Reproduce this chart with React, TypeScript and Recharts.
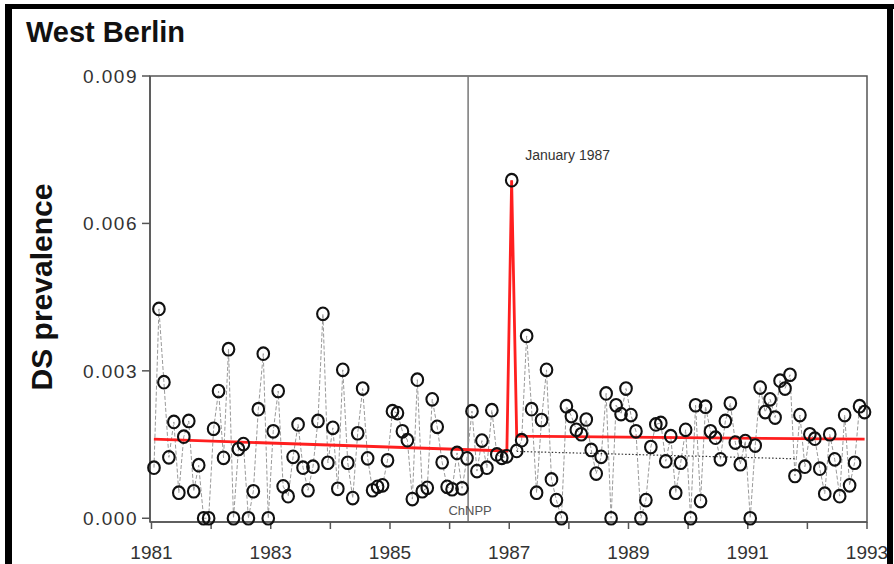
import React from "react";
import {
  ComposedChart,
  Line,
  XAxis,
  YAxis,
  ReferenceLine,
  ReferenceArea,
  ReferenceDot,
} from "recharts";

// monthly DS prevalence, West Berlin, Jan..Dec of each year
const years = [1981, 1982, 1983, 1984, 1985, 1986, 1987, 1988, 1989, 1990, 1991, 1992];
const ds1981 = [0.00103, 0.00426, 0.00277, 0.00124, 0.00196, 0.00052, 0.00166, 0.00198, 0.00055, 0.00108, 0, 0];
const ds1982 = [0.00182, 0.00259, 0.00123, 0.00344, 0, 0.00141, 0.00151, 0, 0.00055, 0.00222, 0.00335, 0];
const ds1983 = [0.00177, 0.00259, 0.00065, 0.00045, 0.00125, 0.00191, 0.00103, 0.00057, 0.00105, 0.00198, 0.00416, 0.00113];
const ds1984 = [0.00184, 0.0006, 0.00302, 0.00113, 0.00041, 0.00173, 0.00264, 0.00122, 0.00057, 0.00064, 0.00067, 0.00118];
const ds1985 = [0.00218, 0.00214, 0.00177, 0.00159, 0.00039, 0.00282, 0.00055, 0.00062, 0.00242, 0.00186, 0.00114, 0.00064];
const ds1986 = [0.00059, 0.00133, 0.00061, 0.00122, 0.00218, 0.00096, 0.00158, 0.00103, 0.0022, 0.0013, 0.00123, 0.00126];
const ds1987 = [0.00688, 0.00137, 0.00159, 0.00371, 0.00222, 0.00052, 0.002, 0.00302, 0.00079, 0.00037, 0, 0.00228];
const ds1988 = [0.00208, 0.0018, 0.00171, 0.00201, 0.00139, 0.00091, 0.00125, 0.00254, 0, 0.0023, 0.00212, 0.00264];
const ds1989 = [0.0021, 0.00177, 0, 0.00037, 0.00145, 0.00191, 0.00194, 0.00116, 0.00167, 0.00052, 0.00113, 0.0018];
const ds1990 = [0, 0.0023, 0.00035, 0.00227, 0.00177, 0.00164, 0.0012, 0.00198, 0.00234, 0.00154, 0.0011, 0.00157];
const ds1991 = [0, 0.00148, 0.00266, 0.00216, 0.00242, 0.00205, 0.0028, 0.00264, 0.00292, 0.00086, 0.0021, 0.00105];
const ds1992 = [0.00171, 0.00162, 0.00101, 0.0005, 0.00171, 0.0012, 0.00045, 0.0021, 0.00067, 0.00113, 0.00228, 0.00216];

// fitted model (red) and extended pre-Chernobyl trend (dotted)
const fitYears = [1981.04, 1986.96, 1987.04, 1987.125, 1992.96];
const fitValues = [0.00161, 0.00137, 0.00688, 0.00167, 0.00161];
const trendYears = [1987.125, 1991.82];
const trendValues = [0.00136, 0.00121];

const chnppYear = 1986.31;
const peakYear = 1987.04;
const peakValue = 0.00688;

const xTicks = [1981, 1982, 1983, 1984, 1985, 1986, 1987, 1988, 1989, 1990, 1991, 1992, 1993];
const yTicks = [0, 0.003, 0.006, 0.009];
const xDomain = [1980.975, 1993];
const yDomain = [-0.000076, 0.009];

const monthly = [ds1981, ds1982, ds1983, ds1984, ds1985, ds1986, ds1987, ds1988, ds1989, ds1990, ds1991, ds1992];
const observed = years.flatMap((yr, i) =>
  monthly[i].map((v, m) => ({ t: yr + (m + 0.5) / 12, ds: v }))
);
const fitData = fitYears.map((t, i) => ({ t, fit: fitValues[i] }));
const trendData = trendYears.map((t, i) => ({ t, trend: trendValues[i] }));

const FONT = "'Liberation Sans', Arial, Helvetica, sans-serif";

// the markers in the original are slightly taller than wide
const OpenCircle = (props: any) => {
  const { cx, cy, index } = props;
  if (cx == null || cy == null) return <g key={index} />;
  return (
    <ellipse key={index} cx={cx} cy={cy} rx={5.8} ry={6.3} fill="none" stroke="#111" strokeWidth={2.1} />
  );
};

const XTick = (props: any) => {
  const yr = props.payload.value;
  if ((yr - 1981) % 2 !== 0) return <g />;
  return (
    <text x={props.x} y={props.y} dy={28} textAnchor="middle" fontSize={19} fill="#333" fontFamily={FONT}>
      {yr}
    </text>
  );
};

const YTick = (props: any) => (
  <text x={props.x} y={props.y} dy={7} textAnchor="end" fontSize={19} fill="#333" fontFamily={FONT} letterSpacing={1.5}>
    {Number(props.payload.value).toFixed(3)}
  </text>
);

export default function App() {
  return (
    <div style={{ position: "absolute", left: 0, top: 0, width: 894, height: 564, background: "#fff" }}>
      <ComposedChart width={894} height={564} margin={{ top: 76, right: 27, bottom: 0, left: 80 }}>
        <XAxis
          type="number"
          dataKey="t"
          domain={xDomain}
          ticks={xTicks}
          interval={0}
          height={42}
          tickSize={7}
          axisLine={{ stroke: "#555", strokeWidth: 1.5 }}
          tickLine={{ stroke: "#555", strokeWidth: 1.5 }}
          tick={XTick}
        />
        <YAxis
          type="number"
          domain={yDomain}
          ticks={yTicks}
          interval={0}
          width={70}
          tickSize={8}
          tickMargin={4}
          axisLine={{ stroke: "#555", strokeWidth: 1.5 }}
          tickLine={{ stroke: "#555", strokeWidth: 1.5 }}
          tick={YTick}
        />
        <ReferenceArea
          x1={xDomain[0]}
          x2={xDomain[1]}
          y1={yDomain[0]}
          y2={yDomain[1]}
          fill="none"
          fillOpacity={0}
          stroke="#555"
          strokeWidth={1.5}
        />
        <ReferenceLine
          x={chnppYear}
          stroke="#777"
          strokeWidth={1.5}
          label={(p: any) => (
            <text
              x={p.viewBox.x + 2}
              y={p.viewBox.y + p.viewBox.height - 7}
              textAnchor="middle"
              fontSize={13}
              fill="#555"
              fontFamily={FONT}
            >
              ChNPP
            </text>
          )}
        />
        <Line
          data={observed}
          dataKey="ds"
          type="linear"
          stroke="#9a9a9a"
          strokeWidth={1}
          strokeDasharray="4 2"
          dot={OpenCircle}
          activeDot={false}
          isAnimationActive={false}
        />
        <Line
          data={trendData}
          dataKey="trend"
          type="linear"
          stroke="#333"
          strokeWidth={1.2}
          strokeDasharray="1.5 2"
          dot={false}
          activeDot={false}
          isAnimationActive={false}
        />
        <Line
          data={fitData}
          dataKey="fit"
          type="linear"
          stroke="#ff1f1f"
          strokeWidth={2.8}
          dot={false}
          activeDot={false}
          isAnimationActive={false}
        />
        <ReferenceDot
          x={peakYear}
          y={peakValue}
          r={0}
          fill="none"
          stroke="none"
          label={(p: any) => (
            <text
              x={p.viewBox.x + 56}
              y={p.viewBox.y - 20}
              textAnchor="middle"
              fontSize={14}
              fill="#333"
              fontFamily={FONT}
            >
              January 1987
            </text>
          )}
        />
      </ComposedChart>
      <svg
        width={894}
        height={564}
        style={{ position: "absolute", left: 0, top: 0, pointerEvents: "none" }}
      >
        <rect x={5} y={4} width={7} height={560} fill="#000" />
        <rect x={5} y={4} width={889} height={5} fill="#000" />
        <rect x={887} y={4} width={6} height={560} fill="#000" />
        <text x={26} y={42} fontSize={29} fontWeight="bold" fill="#111" fontFamily={FONT}>
          West Berlin
        </text>
        <text
          transform="translate(52, 287) rotate(-90)"
          textAnchor="middle"
          fontSize={30}
          fontWeight="bold"
          fill="#111"
          fontFamily={FONT}
        >
          DS prevalence
        </text>
      </svg>
    </div>
  );
}
